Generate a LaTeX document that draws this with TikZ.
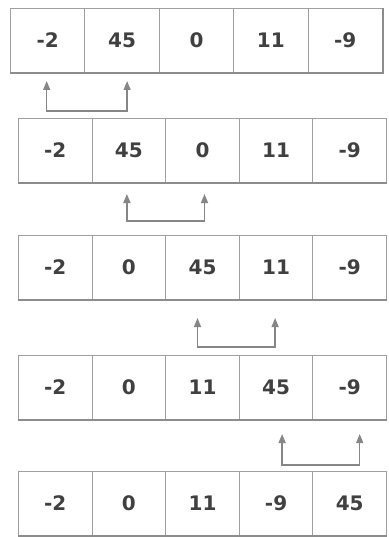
\documentclass[tikz,border=0pt]{standalone}
\usepackage{fontspec}
\setmainfont{DejaVu Sans}
\usetikzlibrary{arrows.meta}
\begin{document}
\begin{tikzpicture}[x=1pt,y=-1pt,
  cell/.style={draw=gray!75, line width=1pt, minimum height=64pt, inner sep=0pt, anchor=north west,
    text height=14pt, text depth=0pt,
    font=\bfseries\fontsize{20}{20}\selectfont, text=black!75},
  wide/.style={minimum width=74.4pt},
  narrow/.style={minimum width=73.6pt},
  shade/.style={draw=gray!90, line width=2.8pt},
  swap/.style={draw=gray!95, line width=1.4pt, {Triangle[length=9pt,width=7pt]}-{Triangle[length=9pt,width=7pt]}}
]
\useasboundingbox (0,0) rectangle (388,537);
% row 1
\foreach \v [count=\i] in {-2,45,0,11,-9}
  \node[cell,wide] (a\i) at ({10+(\i-1)*74.4},8) {\v};
% row 2
\foreach \v [count=\i] in {-2,45,0,11,-9}
  \node[cell,narrow] (b\i) at ({18+(\i-1)*73.6},118) {\v};
% row 3
\foreach \v [count=\i] in {-2,0,45,11,-9}
  \node[cell,narrow] (c\i) at ({18+(\i-1)*73.6},235) {\v};
% row 4
\foreach \v [count=\i] in {-2,0,11,45,-9}
  \node[cell,narrow] (d\i) at ({18+(\i-1)*73.6},355) {\v};
% row 5
\foreach \v [count=\i] in {-2,0,11,-9,45}
  \node[cell,narrow] (e\i) at ({18+(\i-1)*73.6},471) {\v};
% shadows
\draw[shade] (a1.south west) -- (a5.south east) -- (a5.north east);
\foreach \r in {b,c,d,e}
  \draw[shade] (\r1.south west) -- (\r5.south east);
% swap connectors
\draw[swap] ([xshift=-1pt,yshift=-8pt]a1.south) -- ++(0,30) -| ([xshift=5pt,yshift=-8pt]a2.south);
\draw[swap] ([xshift=-2pt,yshift=-11pt]b2.south) -- ++(0,27) -| ([xshift=2pt,yshift=-11pt]b3.south);
\draw[swap] ([xshift=-5pt,yshift=-18pt]c3.south) -- ++(0,29) -| ([xshift=-1pt,yshift=-18pt]c4.south);
\draw[swap] ([xshift=6pt,yshift=-14pt]d4.south) -- ++(0,31) -| ([xshift=10pt,yshift=-14pt]d5.south);
\end{tikzpicture}
\end{document}
